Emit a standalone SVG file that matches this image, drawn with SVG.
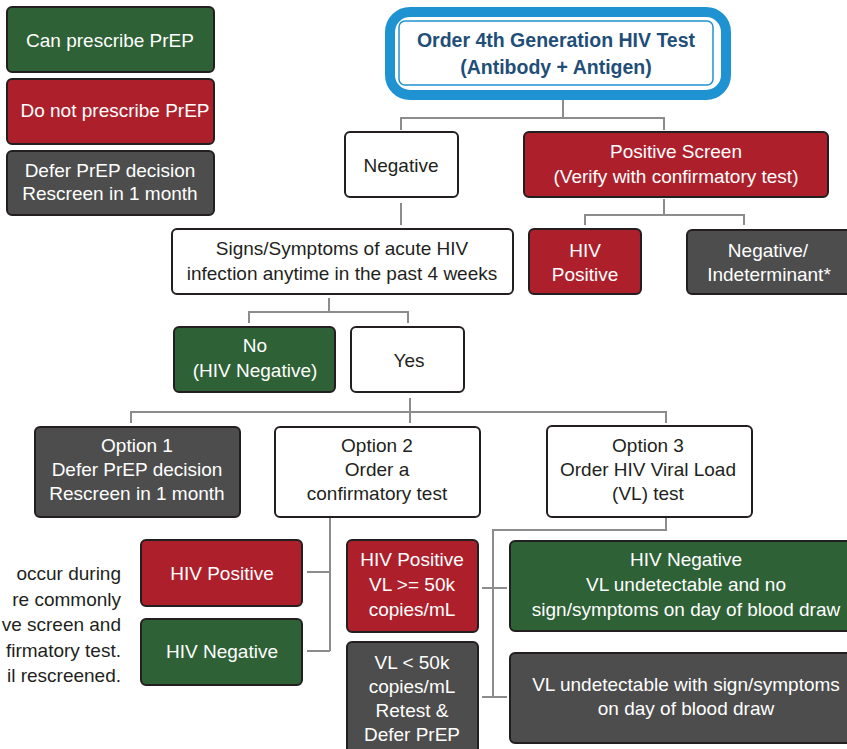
<svg xmlns="http://www.w3.org/2000/svg" width="847" height="749" viewBox="0 0 847 749">
<style>
.b{stroke:#231f20;stroke-width:2}
.g{fill:#2e6136}.r{fill:#ae1f2c}.k{fill:#4d4d4d}.w{fill:#fff}
text{font-family:"Liberation Sans",Arial,sans-serif;font-size:19px;fill:#fff;text-anchor:middle}
text.d{fill:#231f20}
text.n{fill:#231f20;text-anchor:end}
text.t{fill:#1f4e79;font-weight:bold;font-size:19.5px}
.c{stroke:#8c8c8c;stroke-width:2;fill:none}
</style>
<rect width="847" height="749" fill="#fff"/>
<g id="connectors" class="c">
<path d="M563,100V118M401,130V118H664V130"/>
<path d="M401,203V225"/>
<path d="M664,199V215M585,225V215H744V225"/>
<path d="M329,298V312M249,323V312H408V323"/>
<path d="M410,398V423M131,423V412H666V423"/>
<path d="M666,517V530H493V697M482,588H507M482,697H507"/>
<path d="M330,517V651M307,572H330M307,651H330"/>
</g>
<g id="legend-can"><rect class="b g" x="7" y="7" width="207" height="65" rx="5"/><text x="110" y="47">Can prescribe PrEP</text></g>
<g id="legend-donot"><rect class="b r" x="7" y="79" width="207" height="65" rx="5"/><text x="115" y="117">Do not prescribe PrEP</text></g>
<g id="legend-defer"><rect class="b k" x="7" y="151" width="207" height="64" rx="5"/><text x="110" y="177">Defer PrEP decision</text><text x="110" y="200">Rescreen in 1 month</text></g>
<g id="order-test"><rect x="390" y="12" width="336" height="83" rx="20" fill="#fff" stroke="#1f93d1" stroke-width="10"/><rect x="399" y="21" width="314" height="64" rx="6" fill="#fff" stroke="#1f93d1" stroke-width="1.5"/><text class="t" x="556" y="47">Order 4th Generation HIV Test</text><text class="t" x="556" y="74">(Antibody + Antigen)</text></g>
<g id="negative"><rect class="b w" x="345" y="132" width="113" height="65" rx="5"/><text class="d" x="401" y="172">Negative</text></g>
<g id="positive-screen"><rect class="b r" x="524" y="132" width="304" height="65" rx="5"/><text x="676" y="158">Positive Screen</text><text x="676" y="183">(Verify with confirmatory test)</text></g>
<g id="hiv-positive-top"><rect class="b r" x="529" y="229" width="112" height="65" rx="5"/><text x="585" y="257">HIV</text><text x="585" y="281">Positive</text></g>
<g id="neg-indet"><rect class="b k" x="687" y="230" width="170" height="64" rx="5"/><text x="768" y="257">Negative/</text><text x="769" y="281">Indeterminant*</text></g>
<g id="signs"><rect class="b w" x="172" y="229" width="341" height="65" rx="5"/><text class="d" x="342" y="255">Signs/Symptoms of acute HIV</text><text class="d" x="342" y="280">infection anytime in the past 4 weeks</text></g>
<g id="no"><rect class="b g" x="174" y="327" width="161" height="65" rx="5"/><text x="255" y="352">No</text><text x="255" y="377">(HIV Negative)</text></g>
<g id="yes"><rect class="b w" x="351" y="327" width="113" height="65" rx="5"/><text class="d" x="409" y="367">Yes</text></g>
<g id="option1"><rect class="b k" x="35" y="427" width="205" height="90" rx="5"/><text x="137" y="452">Option 1</text><text x="137" y="476">Defer PrEP decision</text><text x="137" y="500">Rescreen in 1 month</text></g>
<g id="option2"><rect class="b w" x="275" y="427" width="205" height="90" rx="5"/><text class="d" x="377" y="452">Option 2</text><text class="d" x="377" y="476">Order a</text><text class="d" x="377" y="500">confirmatory test</text></g>
<g id="option3"><rect class="b w" x="547" y="426" width="205" height="91" rx="5"/><text class="d" x="648" y="452">Option 3</text><text class="d" x="648" y="476">Order HIV Viral Load</text><text class="d" x="648" y="500">(VL) test</text></g>
<g id="note"><text class="n" x="121" y="580">occur during</text><text class="n" x="121" y="606">re commonly</text><text class="n" x="121" y="631">ve screen and</text><text class="n" x="121" y="657">firmatory test.</text><text class="n" x="121" y="682">il rescreened.</text></g>
<g id="hiv-positive-left"><rect class="b r" x="141" y="540" width="161" height="66" rx="5"/><text x="222" y="580">HIV Positive</text></g>
<g id="hiv-negative-left"><rect class="b g" x="141" y="619" width="161" height="66" rx="5"/><text x="222" y="658">HIV Negative</text></g>
<g id="hiv-positive-vl"><rect class="b r" x="347" y="540" width="131" height="92" rx="5"/><text x="412" y="566">HIV Positive</text><text x="412" y="591">VL &gt;= 50k</text><text x="412" y="616">copies/mL</text></g>
<g id="vl-less"><rect class="b k" x="347" y="642" width="131" height="120" rx="5"/><text x="412" y="669">VL &lt; 50k</text><text x="412" y="693">copies/mL</text><text x="412" y="717">Retest &amp;</text><text x="412" y="741">Defer PrEP</text></g>
<g id="hiv-negative-vl"><rect class="b g" x="510" y="541" width="351" height="90" rx="5"/><text x="686" y="566">HIV Negative</text><text x="686" y="591">VL undetectable and no</text><text x="686" y="616">sign/symptoms on day of blood draw</text></g>
<g id="vl-undetectable"><rect class="b k" x="510" y="653" width="351" height="90" rx="5"/><text x="686" y="691">VL undetectable with sign/symptoms</text><text x="686" y="715">on day of blood draw</text></g>
</svg>
